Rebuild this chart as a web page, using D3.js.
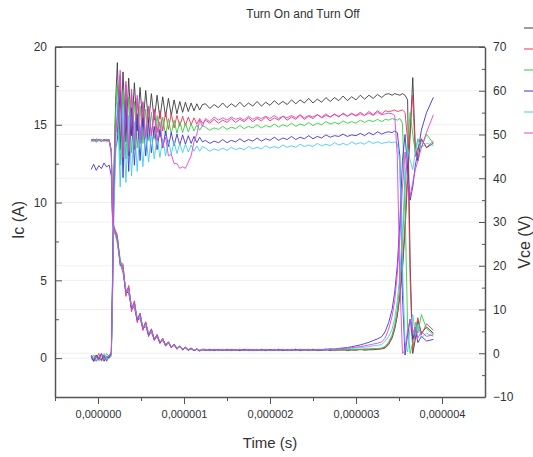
<!DOCTYPE html>
<html>
<head>
<meta charset="utf-8">
<script src="https://cdn.jsdelivr.net/npm/d3@7"></script>
<style>
  body { margin: 0; background: #fff; }
  text { font-family: "Liberation Sans", Arial, sans-serif; fill: #333; }
  .axis path, .axis line { stroke: #555; }
</style>
</head>
<body>
<svg id="chart" width="533" height="457"></svg>
<script>
// time in microseconds, shared by every trace
const timeUs = [
  -0.08,-0.05,-0.02,0.01,0.04,0.07,0.10,0.13,
  0.155,0.17,0.185,0.205,
  0.225,0.258,0.291,0.324,0.357,0.39,0.423,0.456,0.489,0.522,0.555,0.588,0.621,0.654,0.687,0.72,
  0.753,0.786,0.819,0.852,0.885,0.918,0.951,0.984,1.017,1.05,1.083,1.116,1.149,1.182,1.215,
  1.25,1.3,1.35,1.4,1.45,1.5,1.55,1.6,1.65,1.7,
  1.75,1.8,1.85,1.9,1.95,2.0,2.05,2.1,2.15,2.2,
  2.25,2.3,2.35,2.4,2.45,2.5,2.55,2.6,2.65,2.7,
  2.75,2.8,2.85,2.9,2.95,3.0,3.05,3.1,3.15,3.2,
  3.25,3.3,
  3.34,3.38,3.42,3.45,3.48,3.51,3.54,3.57,3.6,3.63,3.66,3.69,3.72,3.76,3.82,3.9
];

// collector current (A)
const icBlack = [
  0.1,-0.2,0.2,-0.1,0.3,-0.2,0.1,0.0,
  0.4,5.5,12.0,16.5,
  19.0,13.4,18.4,13.9,18.0,14.3,17.7,14.6,17.4,14.9,17.2,15.1,17.0,15.3,16.9,15.4,
  16.8,15.5,16.7,15.6,16.6,15.7,16.5,15.8,16.45,15.85,16.4,15.9,16.35,15.95,16.3,
  16.35,16.05,16.3,16.1,16.4,16.1,16.35,16.15,16.45,16.15,
  16.4,16.2,16.5,16.2,16.45,16.25,16.55,16.3,16.5,16.3,
  16.6,16.35,16.6,16.4,16.7,16.4,16.65,16.45,16.75,16.5,
  16.75,16.55,16.85,16.55,16.8,16.6,16.9,16.65,16.9,16.7,
  16.95,16.75,
  16.95,17.0,16.9,17.0,16.95,16.9,17.0,16.9,16.6,6.0,0.3,1.2,2.4,1.6,2.0,1.6
];
const icRed = [
  0.2,-0.1,0.0,0.3,-0.2,0.1,-0.1,0.2,
  0.3,4.8,11.0,15.5,
  14.5,18.2,12.6,17.6,13.0,17.1,13.4,16.7,13.8,16.4,14.1,16.2,14.3,16.0,14.5,15.9,
  14.6,15.8,14.7,15.7,14.8,15.6,14.9,15.55,14.95,15.5,15.0,15.45,15.05,15.4,15.1,
  15.3,15.1,15.35,15.1,15.3,15.15,15.4,15.15,15.35,15.2,
  15.45,15.2,15.4,15.25,15.5,15.25,15.45,15.3,15.55,15.3,
  15.5,15.35,15.6,15.35,15.55,15.4,15.65,15.45,15.6,15.5,
  15.7,15.5,15.75,15.55,15.7,15.6,15.8,15.6,15.85,15.65,
  15.9,15.7,
  15.9,15.85,15.9,15.95,15.85,15.9,15.95,15.8,14.0,5.0,0.5,1.8,2.6,1.5,2.2,1.8
];
const icGreen = [
  0.0,0.2,-0.2,0.1,0.0,-0.1,0.3,0.1,
  0.2,5.0,11.5,15.8,
  17.6,12.4,17.2,12.8,16.8,13.2,16.5,13.5,16.2,13.8,16.0,14.0,15.8,14.1,15.6,14.2,
  15.5,14.3,15.4,14.4,15.3,14.45,15.2,14.5,15.1,14.55,15.05,14.6,15.0,14.65,14.95,
  14.85,14.65,14.8,14.7,14.9,14.7,14.85,14.75,14.95,14.75,
  14.9,14.8,15.0,14.8,14.95,14.85,15.05,14.85,15.0,14.9,
  15.1,14.9,15.05,14.95,15.15,14.95,15.1,15.0,15.2,15.05,
  15.15,15.05,15.25,15.1,15.2,15.1,15.3,15.15,15.3,15.2,
  15.35,15.2,
  15.35,15.3,15.4,15.35,15.3,15.4,15.1,10.0,2.0,0.3,1.0,2.3,1.6,2.8,1.9,1.5
];
const icBlue = [
  0.1,-0.2,0.2,0.0,-0.1,0.2,-0.2,0.1,
  0.2,4.5,10.5,13.5,
  14.0,17.2,11.6,16.6,12.0,16.1,12.4,15.7,12.7,15.4,13.0,15.1,13.2,14.9,13.4,14.7,
  13.5,14.6,13.6,14.5,13.65,14.4,13.7,14.35,13.75,14.3,13.8,14.25,13.85,14.2,13.9,
  14.0,13.8,13.95,13.85,14.05,13.85,14.0,13.9,14.1,13.9,
  14.05,13.95,14.15,13.95,14.1,14.0,14.2,14.0,14.15,14.05,
  14.25,14.05,14.2,14.1,14.3,14.1,14.25,14.15,14.35,14.2,
  14.3,14.25,14.4,14.25,14.35,14.3,14.45,14.3,14.5,14.35,
  14.55,14.4,
  14.5,14.55,14.5,14.6,14.5,13.0,4.0,0.2,1.5,2.5,1.2,1.8,1.0,1.4,1.1,1.2
];
const icCyan = [
  -0.1,0.2,0.0,-0.2,0.1,0.3,-0.1,0.0,
  0.1,4.0,9.5,13.0,
  16.5,11.0,16.0,11.3,15.6,11.7,15.2,12.0,14.9,12.3,14.6,12.6,14.4,12.8,14.2,12.9,
  14.1,13.0,14.0,13.1,13.9,13.15,13.8,13.2,13.75,13.25,13.7,13.3,13.65,13.3,13.6,
  13.5,13.3,13.45,13.35,13.5,13.35,13.55,13.4,13.5,13.4,
  13.6,13.45,13.55,13.45,13.65,13.5,13.6,13.5,13.7,13.55,
  13.65,13.55,13.75,13.6,13.7,13.6,13.8,13.65,13.75,13.65,
  13.85,13.7,13.8,13.7,13.9,13.75,13.85,13.75,13.95,13.8,
  13.9,13.8,
  13.85,13.9,13.85,13.9,13.8,12.5,6.0,1.0,0.4,2.0,2.8,1.5,2.2,1.3,1.6,1.4
];
const icMagenta = [
  0.2,0.0,-0.2,0.1,0.3,-0.1,0.0,0.2,
  0.3,5.2,11.5,14.5,
  15.5,18.5,12.9,17.8,13.3,17.3,13.7,16.9,14.0,16.5,14.2,16.2,14.3,15.8,14.0,15.2,
  13.6,14.2,13.0,13.1,12.5,12.5,12.2,12.3,12.2,12.6,13.0,13.9,14.4,15.3,14.9,
  15.4,15.2,15.5,15.3,15.45,15.3,15.5,15.35,15.45,15.3,
  15.55,15.35,15.5,15.4,15.55,15.4,15.6,15.4,15.55,15.45,
  15.6,15.45,15.65,15.45,15.6,15.5,15.65,15.5,15.7,15.5,
  15.65,15.55,15.7,15.55,15.75,15.55,15.7,15.6,15.75,15.6,
  15.8,15.65,
  15.7,15.75,15.7,15.6,13.0,5.0,0.3,0.5,1.8,2.5,1.6,2.0,1.3,1.7,1.4,1.5
];

// collector-emitter voltage (V)
const vceBlack = [
  48.6,48.9,48.5,48.8,48.4,48.9,48.6,48.7,
  46.0,30.0,28.5,27.5,
  26.0,21.0,19.5,14.0,15.0,10.5,11.5,7.8,9.0,5.8,7.0,4.4,5.4,3.3,4.2,2.5,
  3.3,1.9,2.6,1.4,2.1,1.1,1.7,0.9,1.4,0.8,1.2,0.7,1.0,0.6,0.9,
  0.9,0.6,0.8,0.7,0.9,0.6,0.8,0.7,0.9,0.6,
  0.8,0.7,0.9,0.6,0.8,0.7,0.9,0.6,0.8,0.7,
  0.9,0.6,0.8,0.7,0.9,0.6,0.8,0.7,0.9,0.6,
  0.8,0.7,0.9,0.6,0.8,0.7,0.9,0.7,0.8,0.8,
  0.9,1.0,
  1.2,2.0,3.5,5.5,8.5,13,19,28,40,50,63,47,44,49,47,48
];
const vceRed = [
  48.9,48.6,49.0,48.7,48.8,48.5,48.9,48.6,
  46.5,31.0,29.0,28.0,
  27.0,20.0,20.5,13.0,15.5,9.5,12.0,7.0,9.2,5.2,7.2,3.8,5.6,2.9,4.3,2.2,
  3.4,1.6,2.6,1.2,2.0,0.9,1.6,0.7,1.3,0.6,1.1,0.6,0.9,0.5,0.8,
  0.7,0.9,0.6,0.8,0.7,0.9,0.6,0.8,0.7,0.9,
  0.6,0.8,0.7,0.9,0.6,0.8,0.7,0.9,0.6,0.8,
  0.7,0.9,0.6,0.8,0.7,0.9,0.6,0.8,0.7,0.9,
  0.6,0.8,0.7,0.9,0.7,0.8,0.8,0.9,0.9,1.0,
  1.0,1.1,
  1.4,2.3,3.8,5.8,8.8,13.5,20,30,42,52,59,45,47,49,47,48.5
];
const vceGreen = [
  48.7,48.4,48.9,48.6,48.8,48.5,48.7,48.9,
  46.0,30.5,28.8,27.2,
  26.5,21.5,19.0,14.5,14.2,10.8,11.0,8.0,8.6,6.0,6.7,4.5,5.2,3.4,4.0,2.6,
  3.1,2.0,2.5,1.5,2.0,1.2,1.6,1.0,1.3,0.8,1.1,0.7,1.0,0.7,0.9,
  0.8,0.7,0.9,0.6,0.8,0.7,0.9,0.6,0.8,0.7,
  0.9,0.8,0.7,0.9,0.6,0.8,0.7,0.9,0.6,0.8,
  0.7,0.9,0.6,0.8,0.7,0.9,0.6,0.8,0.7,0.9,
  0.6,0.8,0.7,0.9,0.8,0.9,0.9,1.0,1.0,1.1,
  1.1,1.2,
  1.6,2.6,4.2,6.5,10,16,25,37,48,55,50,46,49,47,50,48
];
const vceBlue = [
  42.0,43.2,41.8,42.9,42.2,43.5,42.6,43.0,
  40.5,30.0,28.0,27.0,
  25.5,20.5,18.5,14.0,13.8,10.2,10.5,7.5,8.0,5.6,6.2,4.1,4.8,3.1,3.7,2.4,
  2.9,1.8,2.3,1.4,1.8,1.1,1.5,0.9,1.2,0.7,1.0,0.6,0.9,0.6,0.8,
  0.7,0.9,0.6,0.8,0.7,0.9,0.7,0.8,0.6,0.9,
  0.7,0.8,0.7,0.9,0.6,0.8,0.7,0.9,0.6,0.8,
  0.7,0.9,0.6,0.8,0.7,0.9,0.7,0.8,0.8,1.0,
  0.9,1.1,1.2,1.3,1.5,1.7,1.9,2.2,2.5,2.9,
  3.3,3.8,
  5.0,7.0,10.0,14.0,20,30,44,50,42,35,38,43,46,51,55,58.5
];
const vceCyan = [
  48.3,48.7,48.2,48.6,48.4,48.8,48.3,48.5,
  45.5,29.5,28.0,26.8,
  25.0,20.8,18.8,14.6,14.0,10.9,10.6,8.2,8.1,6.1,6.2,4.6,4.8,3.5,3.7,2.7,
  2.9,2.1,2.3,1.6,1.8,1.3,1.5,1.0,1.2,0.9,1.0,0.8,0.9,0.7,0.8,
  0.9,0.7,0.8,0.6,0.9,0.7,0.8,0.7,0.9,0.6,
  0.8,0.7,0.9,0.7,0.8,0.6,0.9,0.7,0.8,0.7,
  0.9,0.6,0.8,0.7,0.9,0.7,0.8,0.9,0.8,0.9,
  0.9,1.0,1.0,1.1,1.1,1.2,1.3,1.4,1.5,1.7,
  1.8,2.0,
  2.8,3.8,5.5,8.0,12,18,28,40,47,44,42,46,49,47,48,47.5
];
const vceMagenta = [
  48.6,48.8,48.4,48.9,48.5,48.7,48.6,48.8,
  45.8,30.2,28.6,27.6,
  26.2,20.2,19.8,13.6,15.2,10.0,11.8,7.4,9.1,5.5,7.1,4.1,5.5,3.1,4.2,2.4,
  3.3,1.8,2.6,1.3,2.0,1.0,1.6,0.8,1.3,0.7,1.1,0.6,0.9,0.6,0.8,
  0.8,0.6,0.9,0.7,0.8,0.6,0.9,0.7,0.8,0.7,
  0.9,0.6,0.8,0.7,0.9,0.6,0.8,0.7,0.9,0.6,
  0.8,0.7,0.9,0.8,0.8,0.7,0.9,0.8,1.0,0.9,
  1.0,1.1,1.1,1.2,1.3,1.4,1.5,1.7,1.9,2.1,
  2.3,2.6,
  3.5,5.5,8.5,12,18,27,38,46,40,36,39,42,44,47,50.5,54.5
];

const icSeries = [icBlack, icRed, icGreen, icBlue, icCyan, icMagenta];
const vceSeries = [vceBlack, vceRed, vceGreen, vceBlue, vceCyan, vceMagenta];
const seriesColors = ["#3a3a3a", "#ee3355", "#33cc44", "#4433cc", "#44ccee", "#dd44dd"];

const timeTicks = [0, 1, 2, 3, 4];
const icTicks = [0, 5, 10, 15, 20];
const vceTicks = [-10, 0, 10, 20, 30, 40, 50, 60, 70];

var svg = d3.select("#chart"),
  margin = {top: 47, right: 48, bottom: 60, left: 55},
  width = +svg.attr("width") - margin.left - margin.right,
  height = +svg.attr("height") - margin.top - margin.bottom;

var x = d3.scaleLinear().domain([-0.5, 4.5]).range([0, width]);
var yIc = d3.scaleLinear().domain([-2.5, 20]).range([height, 0]);
var yVce = d3.scaleLinear().domain([-10, 70]).range([height, 0]);

var g = svg.append("g")
  .attr("transform", "translate(" + margin.left + "," + margin.top + ")");

svg.append("defs").append("clipPath").attr("id", "plotclip")
  .append("rect").attr("width", width).attr("height", height);

// faint grid
g.append("g").selectAll("line")
  .data(icTicks.filter(d => d < 20))
  .enter().append("line")
  .attr("x1", 0).attr("x2", width)
  .attr("y1", d => yIc(d)).attr("y2", d => yIc(d))
  .attr("stroke", "#efefef");
g.append("g").selectAll("line")
  .data(vceTicks.filter(d => d > -10 && d < 70))
  .enter().append("line")
  .attr("x1", 0).attr("x2", width)
  .attr("y1", d => yVce(d)).attr("y2", d => yVce(d))
  .attr("stroke", "#efefef");

// traces
var lineIc = (vals) => d3.line()
  .defined((d, i) => vals[i] !== undefined)
  .x((d, i) => x(timeUs[i]))
  .y((d, i) => yIc(vals[i]))(timeUs);
var lineVce = (vals) => d3.line()
  .defined((d, i) => vals[i] !== undefined)
  .x((d, i) => x(timeUs[i]))
  .y((d, i) => yVce(vals[i]))(timeUs);

var traces = g.append("g").attr("clip-path", "url(#plotclip)");
seriesColors.forEach(function(c, s) {
  traces.append("path")
    .attr("d", lineVce(vceSeries[s]))
    .attr("fill", "none").attr("stroke", c).attr("stroke-width", 0.9);
  traces.append("path")
    .attr("d", lineIc(icSeries[s]))
    .attr("fill", "none").attr("stroke", c).attr("stroke-width", 0.9);
});

// frame
g.append("line").attr("x1", 0).attr("x2", width).attr("y1", 0).attr("y2", 0)
  .attr("stroke", "#555").attr("stroke-width", 1.5);

var fmt = d => (d * 1e-6).toFixed(6).replace(".", ",");

g.append("g")
  .attr("class", "axis")
  .attr("transform", "translate(0," + height + ")")
  .call(d3.axisBottom(x).tickValues([-0.5, 0.5, 1.5, 2.5, 3.5]).tickSize(4).tickFormat(""))
  .call(a => a.select(".domain").remove());
g.append("g")
  .attr("class", "axis axis--x")
  .attr("transform", "translate(0," + height + ")")
  .call(d3.axisBottom(x).tickValues(timeTicks).tickSize(7).tickSizeOuter(0).tickFormat(fmt))
  .call(a => a.select(".domain").attr("stroke-width", 1.5))
  .selectAll("text").attr("font-size", 11).attr("dy", "1.0em");

g.append("g")
  .attr("class", "axis")
  .call(d3.axisRight(yIc).tickValues([-2.5, 2.5, 7.5, 12.5, 17.5]).tickSize(4).tickFormat(""))
  .call(a => a.select(".domain").remove());
g.append("g")
  .attr("class", "axis axis--y")
  .call(d3.axisLeft(yIc).tickValues(icTicks).tickSize(-7).tickSizeOuter(0).tickPadding(8))
  .call(a => a.select(".domain").attr("stroke-width", 1.5))
  .selectAll("text").attr("font-size", 12);

g.append("g")
  .attr("class", "axis")
  .attr("transform", "translate(" + width + ",0)")
  .call(d3.axisLeft(yVce).tickValues([-5, 5, 15, 25, 35, 45, 55, 65]).tickSize(3).tickFormat(""))
  .call(a => a.select(".domain").remove());
g.append("g")
  .attr("class", "axis axis--y2")
  .attr("transform", "translate(" + width + ",0)")
  .call(d3.axisRight(yVce).tickValues(vceTicks).tickSize(-6).tickSizeOuter(0).tickPadding(8))
  .call(a => a.select(".domain").attr("stroke-width", 1.5))
  .selectAll("text").attr("font-size", 12);

// titles
svg.append("text")
  .attr("x", 303).attr("y", 18)
  .attr("text-anchor", "middle").attr("font-size", 12)
  .text("Turn On and Turn Off");
svg.append("text")
  .attr("x", margin.left + x(2)).attr("y", 448)
  .attr("text-anchor", "middle").attr("font-size", 15)
  .text("Time (s)");
svg.append("text")
  .attr("transform", "translate(24," + (margin.top + height / 2 - 2) + ") rotate(-90)")
  .attr("text-anchor", "middle").attr("font-size", 16)
  .text("Ic (A)");
svg.append("text")
  .attr("transform", "translate(530," + (margin.top + height / 2 + 20) + ") rotate(-90)")
  .attr("text-anchor", "middle").attr("font-size", 16)
  .text("Vce (V)");

// legend stubs at the right edge
svg.append("g").selectAll("line")
  .data(seriesColors)
  .enter().append("line")
  .attr("x1", 524).attr("x2", 533)
  .attr("y1", (d, i) => 28 + i * 21).attr("y2", (d, i) => 28 + i * 21)
  .attr("stroke", d => d).attr("stroke-width", 1);
</script>
</body>
</html>
